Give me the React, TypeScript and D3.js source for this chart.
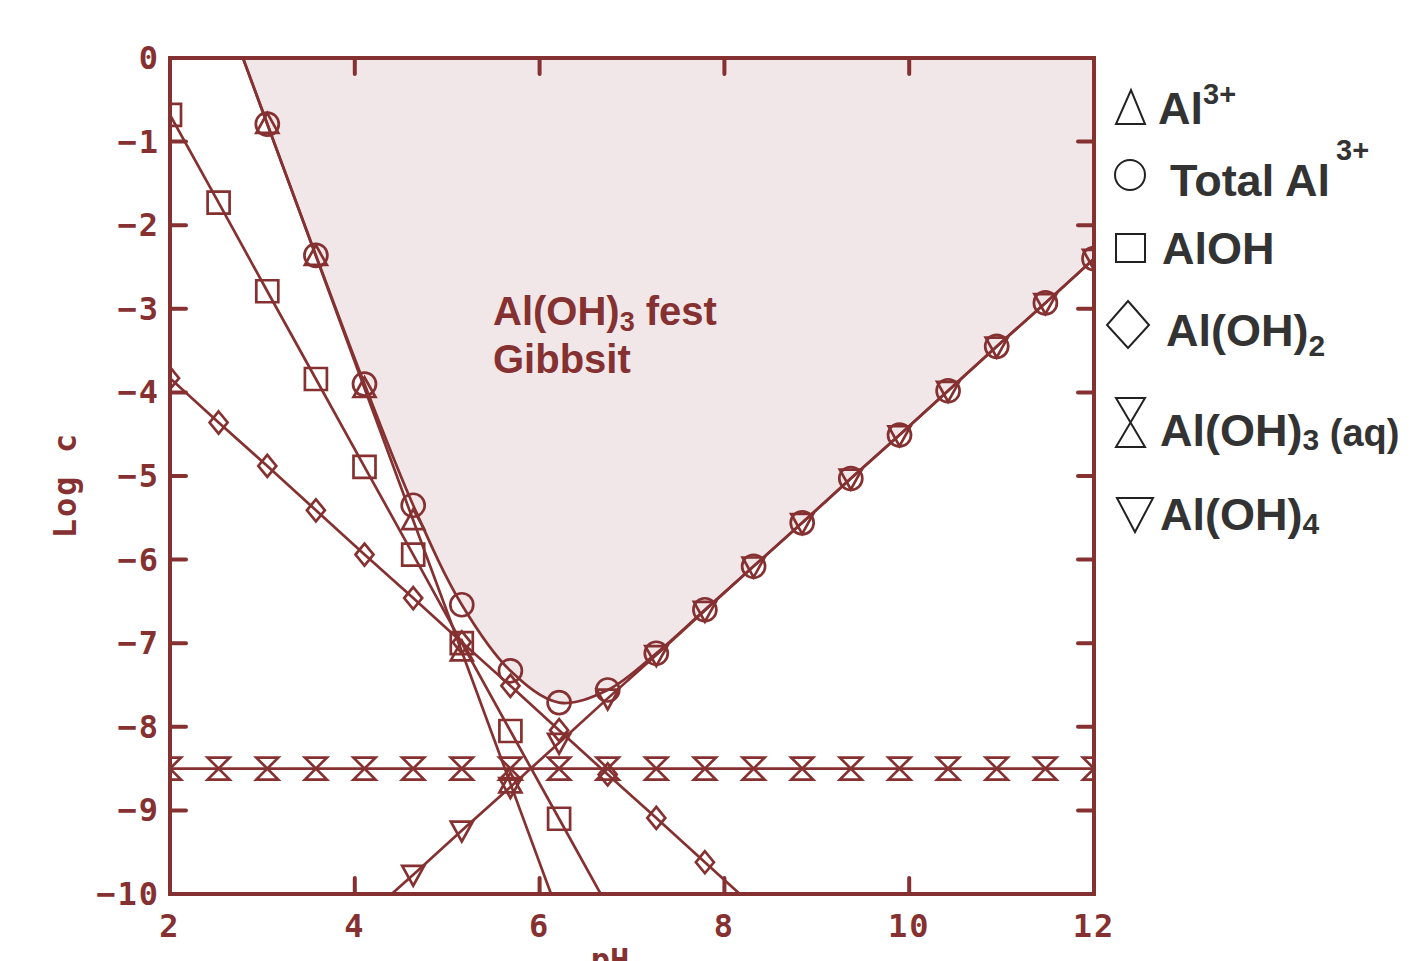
import React from "react";
import * as d3 from "d3";

// ---- data ----
const pHValues = [2.0, 2.526, 3.053, 3.579, 4.105, 4.632, 5.158, 5.684, 6.211, 6.737, 7.263, 7.789, 8.316, 8.842, 9.368, 9.895, 10.421, 10.947, 11.474, 12.0];
const logAl3: (number | null)[] = [2.37, 0.79, -0.79, -2.37, -3.95, -5.53, -7.1, -8.68, -10.26, null, null, null, null, null, null, null, null, null, null, null];
const logAlOH: (number | null)[] = [-0.68, -1.73, -2.79, -3.84, -4.89, -5.94, -7.0, -8.05, -9.1, -10.15, null, null, null, null, null, null, null, null, null, null];
const logAlOH2: (number | null)[] = [-3.83, -4.36, -4.88, -5.41, -5.94, -6.46, -6.99, -7.51, -8.04, -8.57, -9.09, -9.62, -10.15, null, null, null, null, null, null, null];
const logAlOH3aq: (number | null)[] = [-8.5, -8.5, -8.5, -8.5, -8.5, -8.5, -8.5, -8.5, -8.5, -8.5, -8.5, -8.5, -8.5, -8.5, -8.5, -8.5, -8.5, -8.5, -8.5, -8.5];
const logAlOH4: (number | null)[] = [null, null, null, null, -10.29, -9.77, -9.24, -8.72, -8.19, -7.66, -7.14, -6.61, -6.08, -5.56, -5.03, -4.51, -3.98, -3.45, -2.93, -2.4];
const logTotal: (number | null)[] = [2.37, 0.79, -0.79, -2.36, -3.9, -5.35, -6.54, -7.33, -7.71, -7.56, -7.12, -6.6, -6.08, -5.56, -5.03, -4.51, -3.98, -3.45, -2.93, -2.4];

const xTicks = [2, 4, 6, 8, 10, 12];
const yTicks = [0, -1, -2, -3, -4, -5, -6, -7, -8, -9, -10];

const RED = "#863131";
const FILL = "#f1e7e9";
const INK = "#333333";

const L = 170, R = 1094, T = 58, B = 894;
const x = d3.scaleLinear().domain([2, 12]).range([L, R]);
const y = d3.scaleLinear().domain([0, -10]).range([T, B]);

type Pt = [number, number];
const pts = (vals: (number | null)[]): Pt[] =>
  pHValues.map((p, i) => [p, vals[i]] as [number, number | null]).filter((d) => d[1] !== null) as Pt[];

const line = d3.line<Pt>().x((d) => x(d[0])).y((d) => y(d[1]));
const smooth = d3.line<Pt>().x((d) => x(d[0])).y((d) => y(d[1])).curve(d3.curveCatmullRom.alpha(0.5));
const area = d3
  .area<Pt>()
  .x((d) => x(d[0]))
  .y0(() => y(0))
  .y1((d) => y(d[1]))
  .curve(d3.curveCatmullRom.alpha(0.5));

const mk = {
  triUp: (cx: number, cy: number, s = 11) => `M${cx - s},${cy + s * 0.8}L${cx + s},${cy + s * 0.8}L${cx},${cy - s * 1.0}Z`,
  triDown: (cx: number, cy: number, s = 11) => `M${cx - s},${cy - s * 0.8}L${cx + s},${cy - s * 0.8}L${cx},${cy + s * 1.0}Z`,
  square: (cx: number, cy: number, s = 11) => `M${cx - s},${cy - s}H${cx + s}V${cy + s}H${cx - s}Z`,
  diamond: (cx: number, cy: number, w = 9, h = 11) => `M${cx},${cy - h}L${cx + w},${cy}L${cx},${cy + h}L${cx - w},${cy}Z`,
  hour: (cx: number, cy: number, w = 11, h = 11) =>
    `M${cx - w},${cy - h}H${cx + w}L${cx - w},${cy + h}H${cx + w}Z`,
};

function inRange(v: number) {
  return v <= 0.05 && v >= -10.05;
}

function Markers({ vals, kind }: { vals: (number | null)[]; kind: string }) {
  const p = pts(vals).filter((d) => inRange(d[1]));
  return (
    <g fill="none" stroke={RED} strokeWidth={2.7}>
      {p.map((d, i) => {
        const cx = x(d[0]);
        const cy = y(d[1]);
        if (kind === "circle") return <circle key={i} cx={cx} cy={cy} r={11.5} />;
        const f = (mk as any)[kind];
        return <path key={i} d={f(cx, cy)} />;
      })}
    </g>
  );
}

export default function App() {
  const series: [(number | null)[], string][] = [
    [logAl3, "triUp"],
    [logAlOH, "square"],
    [logAlOH2, "diamond"],
    [logAlOH3aq, "hour"],
    [logAlOH4, "triDown"],
  ];
  const monoFont = "'DejaVu Sans Mono', monospace";
  const sansFont = "'Liberation Sans', Arial, sans-serif";
  return (
    <svg width={1427} height={961} style={{ position: "absolute", left: 0, top: 0 }}>
      <defs>
        <clipPath id="plot">
          <rect x={L} y={T} width={R - L} height={B - T} />
        </clipPath>
      </defs>
      <rect width={1427} height={961} fill="#ffffff" />
      <g clipPath="url(#plot)">
        <path d={area(pts(logTotal)) || ""} fill={FILL} />
        {series.map(([vals], i) => (
          <path key={i} d={line(pts(vals)) || ""} fill="none" stroke={RED} strokeWidth={2.7} />
        ))}
        <path d={smooth(pts(logTotal)) || ""} fill="none" stroke={RED} strokeWidth={2.7} />
        {series.map(([vals, kind], i) => (
          <Markers key={i} vals={vals} kind={kind} />
        ))}
        <Markers vals={logTotal} kind="circle" />
      </g>

      {/* in-plot label */}
      <g fill={RED} fontFamily={sansFont} fontWeight="bold" fontSize={40}>
        <text x={493} y={325}>
          Al(OH)<tspan fontSize={27} dy={6}>3</tspan>
          <tspan dy={-6}> fest</tspan>
        </text>
        <text x={493} y={373}>Gibbsit</text>
      </g>

      {/* frame and ticks */}
      <rect x={L} y={T} width={R - L} height={B - T} fill="none" stroke={RED} strokeWidth={4} />
      <g stroke={RED} strokeWidth={4} strokeLinecap="round">
        {xTicks.map((t) => (
          <g key={t}>
            <line x1={x(t)} x2={x(t)} y1={B} y2={B - 16} />
            <line x1={x(t)} x2={x(t)} y1={T} y2={T + 16} />
          </g>
        ))}
        {yTicks.map((t) => (
          <g key={t}>
            <line x1={L} x2={L + 16} y1={y(t)} y2={y(t)} />
            <line x1={R} x2={R - 16} y1={y(t)} y2={y(t)} />
          </g>
        ))}
      </g>
      <g fill={RED} fontFamily={monoFont} fontWeight="bold" fontSize={32}>
        {xTicks.map((t) => (
          <text key={t} x={x(t)} y={937} textAnchor="middle" letterSpacing={2}>
            {String(t)}
          </text>
        ))}
        {yTicks.map((t) => (
          <text key={t} x={160} y={y(t) + 11} textAnchor="end" letterSpacing={2}>
            {t === 0 ? "0" : "\u2212" + String(-t)}
          </text>
        ))}
        <text x={610} y={971} textAnchor="middle">pH</text>
        <text transform="translate(76,485) rotate(-90)" textAnchor="middle" letterSpacing={2}>
          Log c
        </text>
      </g>

      {/* legend */}
      <g fill="none" stroke="#222" strokeWidth={2}>
        <path d="M1116,124L1145,124L1131,90Z" />
        <circle cx={1130} cy={175} r={15} />
        <rect x={1116} y={234} width={29} height={28} />
        <path d="M1128,301L1149,325L1128,348L1107,325Z" />
        <path d="M1116,398H1145L1116,447H1145Z" />
        <path d="M1117,498H1153L1135,532Z" />
      </g>
      <g fill={INK} fontFamily={sansFont} fontWeight="bold" fontSize={45}>
        <text x={1158} y={124}>
          Al<tspan fontSize={29} dy={-20}>3+</tspan>
        </text>
        <text x={1170} y={196}>Total Al</text>
        <text x={1336} y={160} fontSize={29}>3+</text>
        <text x={1162} y={264}>AlOH</text>
        <text x={1166} y={346}>
          Al(OH)<tspan fontSize={30} dy={10}>2</tspan>
        </text>
        <text x={1160} y={446}>
          Al(OH)<tspan fontSize={30} dy={4}>3</tspan>
          <tspan fontSize={38} dy={-4}> (aq)</tspan>
        </text>
        <text x={1160} y={530}>
          Al(OH)<tspan fontSize={30} dy={4}>4</tspan>
        </text>
      </g>
    </svg>
  );
}
